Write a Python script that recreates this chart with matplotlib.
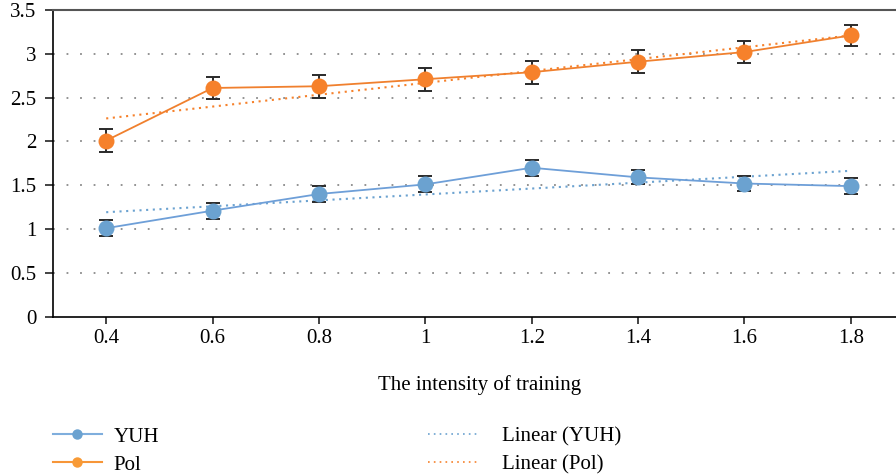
import numpy as np
import matplotlib
matplotlib.use("Agg")
import matplotlib.pyplot as plt
from matplotlib.lines import Line2D

# ---- data ----
categories = ["0.4", "0.6", "0.8", "1", "1.2", "1.4", "1.6", "1.8"]
yuh = [1.01, 1.21, 1.40, 1.51, 1.70, 1.59, 1.52, 1.49]
pol = [2.01, 2.61, 2.63, 2.71, 2.79, 2.91, 3.02, 3.21]
yuh_err = [0.09, 0.09, 0.09, 0.09, 0.09, 0.08, 0.09, 0.09]
pol_err = [0.13, 0.13, 0.13, 0.13, 0.13, 0.13, 0.13, 0.12]
yticks = [0, 0.5, 1, 1.5, 2, 2.5, 3, 3.5]
ytick_labels = ["0", "0.5", "1", "1.5", "2", "2.5", "3", "3.5"]
xlabel = "The intensity of training"
series_names = ["YUH", "Pol", "Linear (YUH)", "Linear (Pol)"]

BLUE = "#6BA2D0"
BLUE_LINE = "#6E9FD8"
ORANGE = "#F6812B"
ORANGE_LINE = "#F0802E"

plt.rcParams["font.family"] = ["Liberation Serif", "DejaVu Serif"]

fig = plt.figure(figsize=(8.96, 4.76), dpi=100)
W, H = 896, 476
left, right, top, bottom = 53, 904, 10, 316.7
ax = fig.add_axes([left / W, 1 - bottom / H, (right - left) / W, (bottom - top) / H])

x = np.arange(len(categories))

# linear trendlines (least-squares fit of the data)
for vals, col in ((yuh, BLUE), (pol, ORANGE)):
    k, b = np.polyfit(x + 1, vals, 1)
    ax.plot(x, k * (x + 1) + b, color=col, lw=1.5, linestyle=(0, (1, 2.2)), zorder=3)

for vals, err, col, lcol in ((yuh, yuh_err, BLUE, BLUE_LINE), (pol, pol_err, ORANGE, ORANGE_LINE)):
    ax.errorbar(x, vals, yerr=err, fmt="none", ecolor="#2a2a2a", elinewidth=1.4,
                capsize=5, capthick=1.4, zorder=4)
    ax.plot(x, vals, color=lcol, lw=1.3, zorder=5)
    ax.plot(x, vals, "o", color=col, markersize=11.5, markeredgewidth=0, zorder=6)

ax.set_xlim(-0.5, 7.5)
ax.set_ylim(0, 3.5)
ax.set_xticks(x)
ax.set_xticklabels(categories, fontsize=15)
ax.set_yticks(yticks)
ax.set_yticklabels(ytick_labels, fontsize=15)
ax.tick_params(axis="y", length=6, width=1.2, pad=6, direction="out", color="#222222")
ax.tick_params(axis="x", length=5, width=1.2, pad=4, direction="out", color="#222222")

for yv in yticks[1:-1]:
    ax.axhline(yv, color="#8a8a8a", lw=1.3, linestyle=(0, (1, 6.5)), zorder=1)

ax.spines["right"].set_visible(False)
ax.spines["top"].set_color("#555555")
ax.spines["top"].set_linewidth(1.5)
ax.spines["left"].set_linewidth(1.2)
ax.spines["bottom"].set_linewidth(1.2)

fig.text(480 / W, 1 - 385 / H, xlabel, ha="center", va="center", fontsize=15)

h_series = [
    Line2D([], [], color="#7FAEDD", lw=1.5, marker="o", markersize=7.5, markerfacecolor=BLUE, markeredgewidth=0),
    Line2D([], [], color="#F79638", lw=1.5, marker="o", markersize=7.5, markerfacecolor="#F89A36", markeredgewidth=0),
]
h_trend = [
    Line2D([], [], color=BLUE, lw=1.2, linestyle=(0, (1, 2.5))),
    Line2D([], [], color=ORANGE, lw=1.2, linestyle=(0, (1, 2.5))),
]
common = dict(loc="upper left", frameon=False, fontsize=15, handlelength=2.35,
              labelspacing=0.4, borderaxespad=0, borderpad=0)
leg1 = fig.legend(h_series, series_names[:2], bbox_to_anchor=(53 / W, 1 - 427 / H),
                  handletextpad=0.56, **common)
leg2 = fig.legend(h_trend, series_names[2:], bbox_to_anchor=(428 / W, 1 - 427 / H),
                  handletextpad=1.2, **common)

fig.savefig("out.png", dpi=100)
